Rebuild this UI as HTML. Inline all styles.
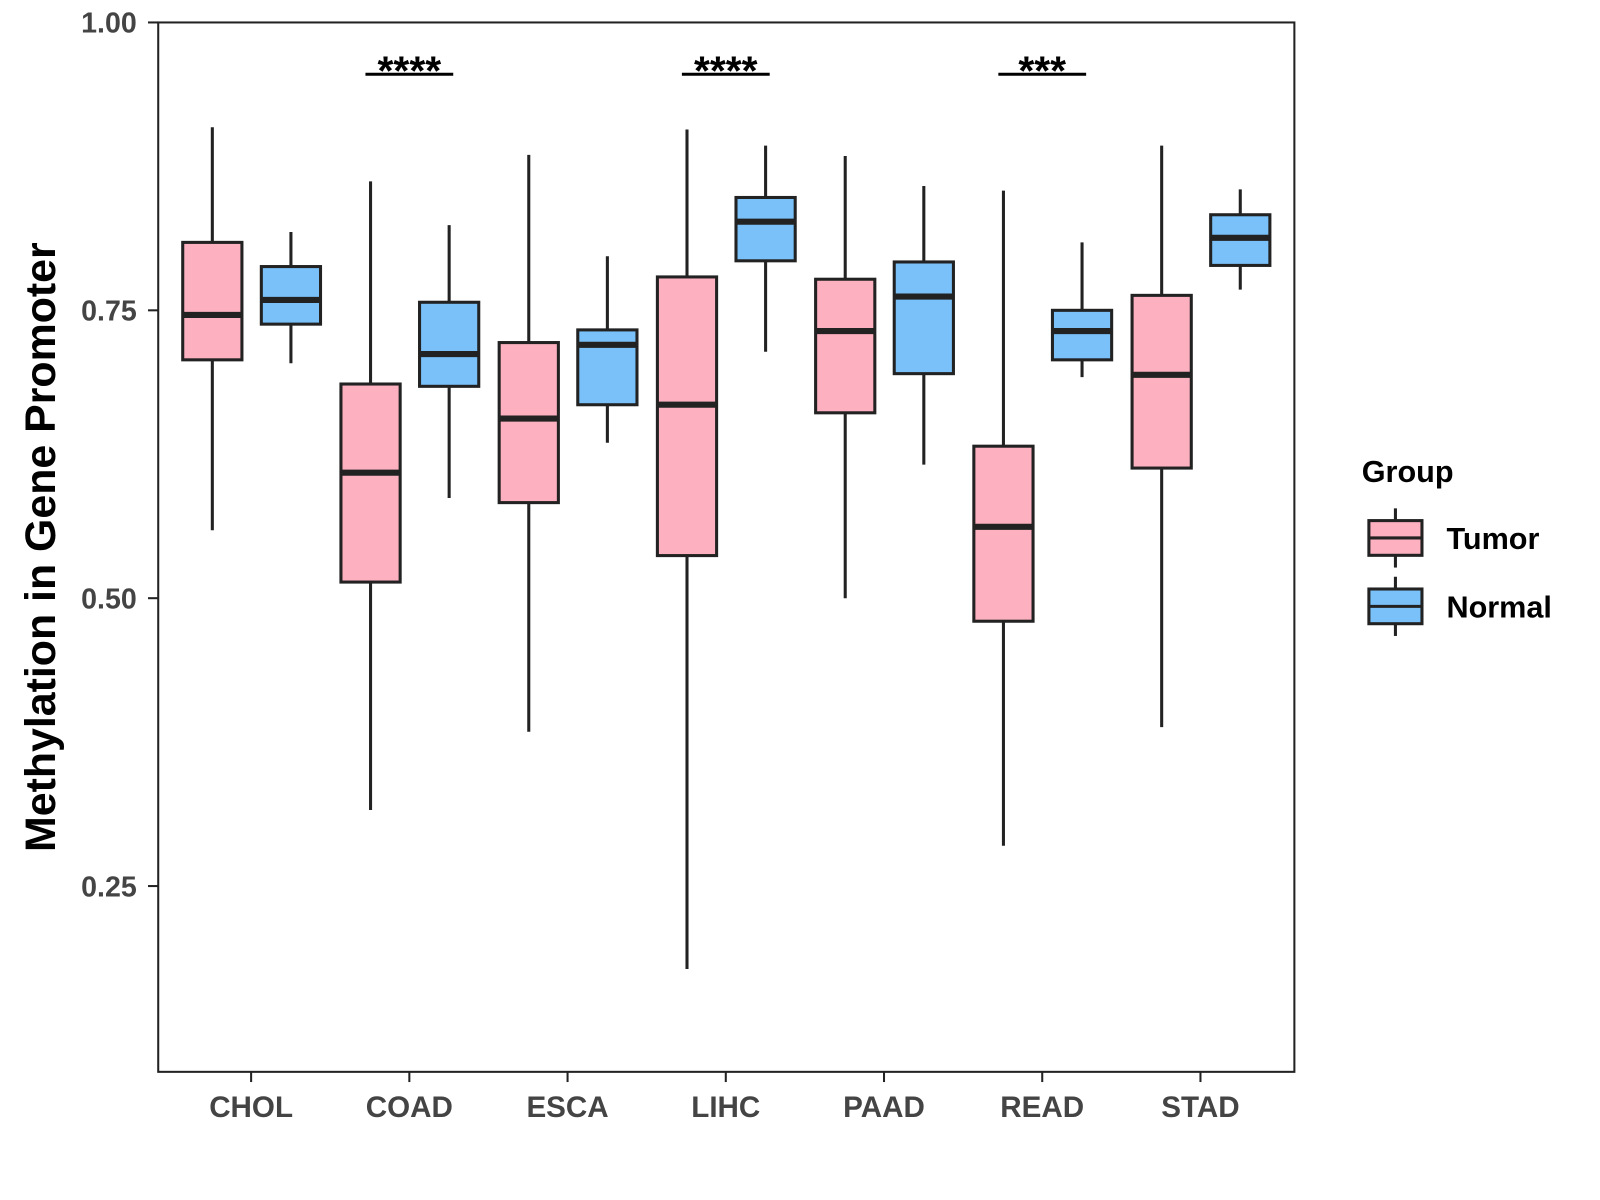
<!DOCTYPE html>
<html><head><meta charset="utf-8"><style>
html,body{margin:0;padding:0;background:#fff;width:1600px;height:1200px;overflow:hidden}
svg{display:block;font-family:"Liberation Sans",Arial,sans-serif}
</style></head><body>
<svg id="chart" width="1600" height="1200" xmlns="http://www.w3.org/2000/svg">
<g transform="scale(1.0208)">
<rect x="155" y="22" width="1113" height="1028" fill="#fff" stroke="#222" stroke-width="2"/>
<g id="marks"></g>
<text x="0" y="0" transform="translate(54,536) rotate(-90)" text-anchor="middle" font-size="42" font-weight="bold" fill="#000">Methylation in Gene Promoter</text>
<text x="1334" y="472" font-size="30" font-weight="bold" fill="#000">Group</text>
<g>
<line x1="1367" y1="498" x2="1367" y2="556" stroke="#222" stroke-width="3"/>
<rect x="1341" y="510" width="52" height="34" fill="#FCB0C0" stroke="#222" stroke-width="3"/>
<line x1="1341" y1="527" x2="1393" y2="527" stroke="#222" stroke-width="3"/>
<text x="1417" y="538" font-size="30" font-weight="bold" fill="#000">Tumor</text>
</g>
<g>
<line x1="1367" y1="565" x2="1367" y2="623" stroke="#222" stroke-width="3"/>
<rect x="1341" y="577" width="52" height="34" fill="#79C1F8" stroke="#222" stroke-width="3"/>
<line x1="1341" y1="594" x2="1393" y2="594" stroke="#222" stroke-width="3"/>
<text x="1417" y="605" font-size="30" font-weight="bold" fill="#000">Normal</text>
</g>
</g>
</svg>
<script>
const categories=["CHOL","COAD","ESCA","LIHC","PAAD","READ","STAD"];
const tumorStats=[[0.559,0.707,0.746,0.809,0.909],[0.316,0.514,0.609,0.686,0.862],[0.384,0.583,0.656,0.722,0.885],[0.178,0.537,0.668,0.779,0.907],[0.500,0.661,0.732,0.777,0.884],[0.285,0.480,0.562,0.632,0.854],[0.388,0.613,0.694,0.763,0.893]];
const normalStats=[[0.704,0.738,0.759,0.788,0.818],[0.587,0.684,0.712,0.757,0.824],[0.635,0.668,0.720,0.733,0.797],[0.714,0.793,0.827,0.848,0.893],[0.616,0.695,0.762,0.792,0.858],[0.692,0.707,0.732,0.750,0.809],[0.768,0.789,0.813,0.833,0.855]];
const yTicks=[0.25,0.50,0.75,1.00];
const sigLabels=["","****","","****","","***",""];
const sigLevel=0.955;
const NS="http://www.w3.org/2000/svg";
const g=document.getElementById('marks');
function yS(v){return 22+(1-v)*1128;}
function xS(i){return 246+i*155;}
function mk(tag,attrs,parent){const e=document.createElementNS(NS,tag);for(const k in attrs)e.setAttribute(k,attrs[k]);(parent||g).appendChild(e);return e;}
yTicks.forEach(t=>{
  const grp=mk('g',{});
  
  
  mk('line',{x1:145,x2:155,y1:yS(t),y2:yS(t),stroke:'#222','stroke-width':2},grp);
  const tx=mk('text',{x:134,y:yS(t)+10,'text-anchor':'end','font-size':28,'font-weight':'bold',fill:'#444'},grp);
  tx.textContent=t.toFixed(2);
});
categories.forEach((c,i)=>{
  const grp=mk('g',{});
  
  
  mk('line',{x1:xS(i),x2:xS(i),y1:1050,y2:1060,stroke:'#222','stroke-width':2},grp);
  const tx=mk('text',{x:xS(i),y:1094,'text-anchor':'middle','font-size':29,'font-weight':'bold',fill:'#444'},grp);
  tx.textContent=c;
});
function box(s,cx,fill,name){
  const grp=mk('g',{});
  
  
  mk('line',{x1:cx,x2:cx,y1:yS(s[0]),y2:yS(s[4]),stroke:'#222','stroke-width':3},grp);
  mk('rect',{x:cx-29,y:yS(s[3]),width:58,height:yS(s[1])-yS(s[3]),fill:fill,stroke:'#222','stroke-width':3},grp);
  mk('line',{x1:cx-29,x2:cx+29,y1:yS(s[2]),y2:yS(s[2]),stroke:'#222','stroke-width':6},grp);
}
categories.forEach((c,i)=>{
  box(tumorStats[i],xS(i)-38,'#FCB0C0','box-tumor-'+c.toLowerCase());
  box(normalStats[i],xS(i)+39,'#79C1F8','box-normal-'+c.toLowerCase());
  if(sigLabels[i]){
    const grp=mk('g',{});
    
    
    mk('line',{x1:xS(i)-43,x2:xS(i)+43,y1:yS(sigLevel),y2:yS(sigLevel),stroke:'#000','stroke-width':3},grp);
    const tx=mk('text',{x:xS(i),y:yS(sigLevel)+10,'text-anchor':'middle','font-size':40,'font-weight':'bold',fill:'#000'},grp);
    tx.textContent=sigLabels[i];
  }
});
</script>
</body></html>
